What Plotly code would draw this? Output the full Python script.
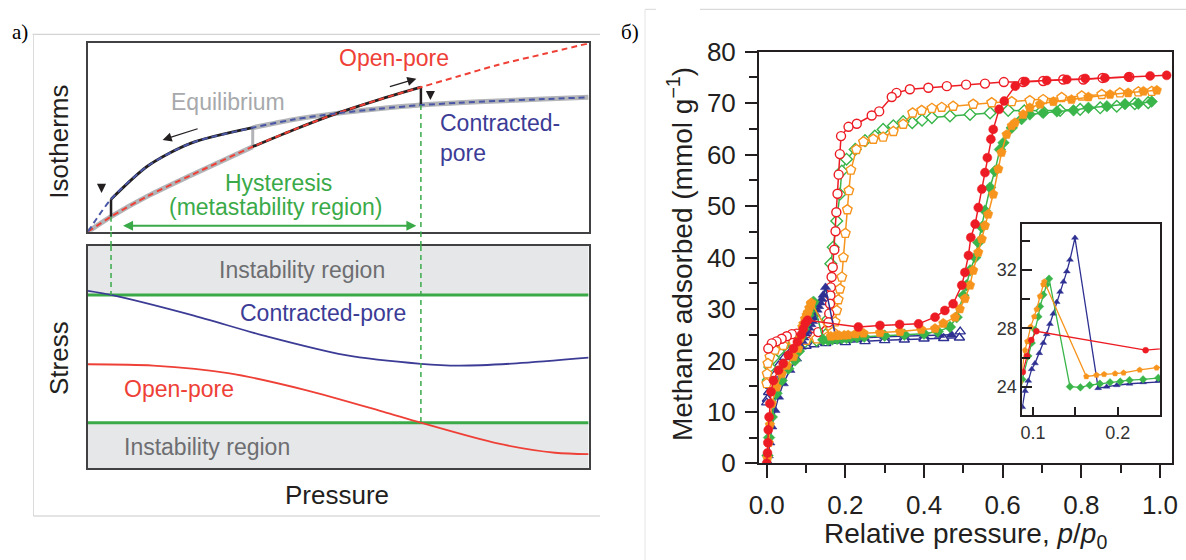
import plotly.graph_objects as go

W, H = 1186, 560

# ---------------- Panel a: schematic isotherms (normalised units) ----------------
iso_x = [0.0, 0.046, 0.12, 0.206, 0.329, 0.41, 0.497, 0.58, 0.665, 0.74, 0.818, 0.91, 1.0]
open_pore_iso = [0.0, 0.08, 0.19, 0.30, 0.451, 0.54, 0.628, 0.70, 0.767, 0.825, 0.885, 0.943, 1.0]
contracted_iso = [0.0, 0.172, 0.35, 0.47, 0.552, 0.595, 0.628, 0.652, 0.672, 0.684, 0.694, 0.704, 0.713]
hyst_low_p = 0.046
equil_p = 0.329
hyst_high_p = 0.665

stress_x_contracted = [0.0, 0.046, 0.206, 0.359, 0.512, 0.665, 0.741, 0.856, 1.0]
stress_contracted = [0.798, 0.78, 0.69, 0.592, 0.51, 0.47, 0.462, 0.472, 0.4975]
stress_x_open = [0.0, 0.13, 0.283, 0.435, 0.589, 0.665, 0.818, 0.933, 1.0]
stress_open = [0.468, 0.462, 0.427, 0.352, 0.255, 0.205, 0.112, 0.07, 0.064]
stress_upper_limit = 0.78
stress_lower_limit = 0.205

# ---------------- Panel b: methane isotherms ----------------
red_ads_x = [0.0, 0.002, 0.003, 0.004, 0.006, 0.008, 0.011, 0.017, 0.03, 0.042,
             0.055, 0.068, 0.078, 0.088, 0.093, 0.098, 0.104, 0.233, 0.288, 0.338,
             0.386, 0.428, 0.453, 0.474, 0.496, 0.504, 0.513, 0.519, 0.53, 0.538,
             0.547, 0.555, 0.561, 0.57, 0.576, 0.591, 0.604, 0.632, 0.657, 0.712,
             0.763, 0.81, 0.86, 0.92, 0.975, 1.017]
red_ads_y = [0.0, 2.0, 4.0, 6.5, 9.0, 11.6, 13.9, 16.1, 18.1, 19.4,
             21.0, 22.3, 23.6, 25.0, 26.1, 27.2, 27.8, 26.5, 26.8, 27.0,
             27.1, 28.4, 29.7, 31.0, 34.6, 37.1, 40.4, 43.9, 46.5, 49.7,
             53.3, 56.5, 59.4, 63.0, 64.9, 68.8, 70.4, 73.3, 74.2, 74.4,
             74.6, 74.8, 74.9, 75.1, 75.3, 75.4]
red_des_x = [0.922, 0.854, 0.805, 0.754, 0.703, 0.652, 0.603, 0.555, 0.507, 0.458,
             0.411, 0.364, 0.33, 0.318, 0.286, 0.267, 0.229, 0.208, 0.189, 0.186,
             0.183, 0.18, 0.177, 0.175, 0.172, 0.168, 0.165, 0.163, 0.162, 0.161,
             0.159, 0.157, 0.131, 0.102, 0.076, 0.064, 0.051, 0.038, 0.025, 0.013,
             0.004]
red_des_y = [75.1, 74.9, 74.6, 74.6, 74.3, 74.1, 74.1, 73.8, 73.6, 73.3,
             73.0, 72.7, 72.0, 71.2, 68.4, 67.6, 66.0, 65.4, 63.6, 60.1,
             56.1, 52.4, 48.8, 45.1, 41.5, 38.1, 36.2, 34.2, 32.6, 31.0,
             29.1, 27.4, 25.5, 25.3, 25.2, 25.1, 24.7, 24.2, 23.7, 23.3,
             22.3]

orange_ads_x = [0.002, 0.005, 0.008, 0.013, 0.025, 0.038, 0.051, 0.068, 0.08, 0.085,
                0.0906, 0.0933, 0.0973, 0.1015, 0.1044, 0.1083, 0.1122, 0.1134, 0.163, 0.175,
                0.184, 0.197, 0.207, 0.226, 0.246, 0.288, 0.339, 0.393, 0.428, 0.449,
                0.479, 0.491, 0.504, 0.517, 0.525, 0.538, 0.547, 0.555, 0.563, 0.576,
                0.589, 0.597, 0.61, 0.623, 0.631, 0.652, 0.669, 0.695, 0.729, 0.775,
                0.818, 0.873, 0.919, 0.958, 0.992]
orange_ads_y = [1.0, 4.0, 7.5, 11.6, 14.8, 17.4, 19.0, 20.7, 22.3, 24.3,
                26.5, 27.1, 28.1, 28.8, 29.3, 30.2, 31.0, 31.2, 24.7, 24.8,
                24.85, 24.9, 24.95, 25.15, 25.3, 25.4, 25.6, 26.0, 26.2, 27.2,
                28.4, 30.0, 32.0, 34.6, 37.5, 41.0, 43.6, 46.2, 48.4, 52.3,
                57.2, 60.4, 63.9, 65.6, 66.2, 67.8, 69.1, 69.8, 70.3, 70.7,
                71.2, 71.7, 72.0, 72.3, 72.5]
orange_des_x = [0.979, 0.945, 0.898, 0.852, 0.801, 0.75, 0.703, 0.669, 0.623, 0.572,
                0.525, 0.474, 0.445, 0.42, 0.394, 0.371, 0.347, 0.322, 0.296, 0.271,
                0.246, 0.228, 0.214, 0.209, 0.205, 0.2, 0.195, 0.191, 0.186, 0.182,
                0.178, 0.174, 0.168, 0.153, 0.127, 0.1, 0.068, 0.042, 0.021, 0.008,
                0.003, 0.001, 0.0]
orange_des_y = [72.3, 72.2, 72.0, 71.7, 71.4, 71.1, 70.7, 70.5, 70.3, 70.1,
                69.8, 69.4, 69.2, 69.0, 68.6, 68.1, 65.9, 64.5, 63.4, 63.0,
                62.5, 61.0, 57.0, 53.0, 49.3, 44.7, 40.0, 36.2, 33.9, 31.8,
                29.7, 27.5, 25.5, 24.5, 24.2, 23.9, 23.6, 22.9, 22.0, 20.7,
                19.4, 17.4, 15.5]

green_ads_x = [0.002, 0.006, 0.013, 0.025, 0.038, 0.055, 0.072, 0.082, 0.0874, 0.0945,
               0.0985, 0.1024, 0.1063, 0.1083, 0.1122, 0.1162, 0.119, 0.1437, 0.156, 0.167,
               0.179, 0.191, 0.203, 0.214, 0.23, 0.248, 0.3, 0.35, 0.4, 0.435,
               0.466, 0.483, 0.5, 0.508, 0.517, 0.53, 0.538, 0.547, 0.555, 0.568,
               0.58, 0.593, 0.602, 0.623, 0.648, 0.669, 0.703, 0.738, 0.78, 0.818,
               0.865, 0.911, 0.945, 0.979]
green_ads_y = [1.5, 5.0, 9.0, 13.6, 16.1, 18.4, 20.0, 21.8, 24.5, 26.1,
               27.0, 27.9, 28.8, 29.5, 30.3, 31.0, 31.4, 24.0, 23.95, 24.1,
               24.2, 24.3, 24.35, 24.45, 24.5, 24.6, 24.8, 25.0, 25.2, 25.6,
               26.5, 28.4, 32.6, 34.6, 37.5, 40.0, 42.9, 45.9, 49.1, 53.6,
               56.8, 61.0, 62.3, 65.2, 66.9, 67.8, 68.1, 68.4, 68.6, 69.1,
               69.4, 69.8, 69.9, 70.3]
green_des_x = [0.97, 0.936, 0.89, 0.848, 0.797, 0.746, 0.7, 0.655, 0.614, 0.568,
               0.517, 0.466, 0.42, 0.395, 0.37, 0.347, 0.322, 0.296, 0.275, 0.25,
               0.225, 0.203, 0.191, 0.186, 0.178, 0.169, 0.163, 0.158, 0.155, 0.15,
               0.127, 0.097, 0.068, 0.042, 0.03, 0.017, 0.008, 0.004]
green_des_y = [70.1, 69.9, 69.4, 69.1, 68.8, 68.6, 68.5, 68.5, 68.6, 68.1,
               67.8, 67.5, 67.2, 66.7, 66.2, 66.4, 65.6, 64.9, 63.6, 62.7,
               61.0, 59.1, 56.8, 52.3, 47.1, 42.0, 38.8, 33.0, 28.0, 25.0,
               23.9, 23.6, 23.3, 22.7, 21.8, 20.5, 18.7, 16.2]

blue_ads_x = [0.002, 0.004, 0.008, 0.013, 0.021, 0.03, 0.042, 0.059, 0.076, 0.0874,
              0.0906, 0.0945, 0.0985, 0.1024, 0.1075, 0.1122, 0.1162, 0.12, 0.124, 0.128,
              0.132, 0.136, 0.14, 0.1437, 0.1496, 0.177, 0.187, 0.199, 0.214, 0.23,
              0.248, 0.3, 0.35, 0.4, 0.44, 0.47]
blue_ads_y = [0.3, 1.5, 4.0, 7.1, 10.3, 12.9, 15.5, 18.1, 20.3, 22.6,
              23.7, 24.4, 25.2, 25.6, 26.3, 27.0, 27.6, 28.3, 29.0, 29.8,
              30.5, 31.2, 31.9, 32.7, 34.2, 23.9, 24.0, 24.1, 24.2, 24.3,
              24.4, 24.6, 24.7, 24.8, 24.9, 25.0]
blue_des_x = [0.492, 0.49, 0.45, 0.4, 0.35, 0.3, 0.25, 0.2, 0.15, 0.12,
              0.1, 0.08, 0.06, 0.045, 0.03, 0.02, 0.01, 0.005, 0.002, 0.0]
blue_des_y = [25.6, 24.4, 24.3, 24.2, 24.0, 23.9, 23.7, 23.5, 23.3, 23.1,
              22.8, 22.3, 21.6, 20.6, 19.0, 17.2, 15.0, 13.8, 12.5, 11.8]

x_ticks_main = [0.0, 0.2, 0.4, 0.6, 0.8, 1.0]
y_ticks_main = [0, 10, 20, 30, 40, 50, 60, 70, 80]
x_ticks_inset = [0.1, 0.2]
y_ticks_inset = [24, 28, 32]

# ---------------- styling ----------------
RED_A, BLUE_A, GREEN_A = "#ee4036", "#3c3c96", "#3aaa49"
GRAY_EQ, BLACK = "rgba(165,167,170,0.85)", "#231f20"
GRAY_TXT, FILL = "#6d6e71", "#e6e7e8"
C_RED, C_ORANGE, C_GREEN, C_BLUE = "#ed1c24", "#f7941d", "#39b54a", "#2e3192"
FONT = "Liberation Sans, Arial, Helvetica, sans-serif"
SERIF = "Liberation Serif, Times New Roman, serif"


def px(x):
    return x / W


def py(y):
    return 1 - y / H


dom_a_x = [px(88), px(588.6)]
dom_a_top = [py(231.7), py(43.3)]
dom_a_bot = [py(468.3), py(246)]
dom_b_x = [px(759), px(1171.7)]
dom_b_y = [py(463.3), py(51.7)]
dom_i_x = [px(1022.3), px(1160)]
dom_i_y = [py(415), py(224)]

fig = go.Figure()


def line(x, y, xa, ya, color, width, dash="solid", shape="linear"):
    fig.add_trace(go.Scatter(x=x, y=y, xaxis=xa, yaxis=ya, mode="lines",
                             line=dict(color=color, width=width, dash=dash, shape=shape,
                                       smoothing=0.8),
                             hoverinfo="skip", showlegend=False))


i_low = iso_x.index(hyst_low_p)
i_eq = iso_x.index(equil_p)
i_high = iso_x.index(hyst_high_p)

# equilibrium (gray)
line(iso_x[:i_eq + 1], open_pore_iso[:i_eq + 1], "x", "y", GRAY_EQ, 5, shape="spline")
line([equil_p, equil_p], [open_pore_iso[i_eq], contracted_iso[i_eq]], "x", "y", GRAY_EQ, 3)
line(iso_x[i_eq:], contracted_iso[i_eq:], "x", "y", GRAY_EQ, 5, shape="spline")
# hysteresis loop (black)
line([hyst_low_p, hyst_low_p], [open_pore_iso[i_low], contracted_iso[i_low]], "x", "y", BLACK, 2.5)
line(iso_x[i_low:i_eq + 1], contracted_iso[i_low:i_eq + 1], "x", "y", BLACK, 2.8, shape="spline")
line(iso_x[i_eq:i_high + 1], open_pore_iso[i_eq:i_high + 1], "x", "y", BLACK, 2.8, shape="spline")
line([hyst_high_p, hyst_high_p], [open_pore_iso[i_high], contracted_iso[i_high]], "x", "y", BLACK, 2.5)
# dashed isotherms
line(iso_x, open_pore_iso, "x", "y", RED_A, 2, dash="6px,4px", shape="spline")
line(iso_x, contracted_iso, "x", "y", "#4a56a6", 2, dash="6px,4px", shape="spline")
# green dashed markers of the hysteresis region (top panel)
line([hyst_low_p, hyst_low_p], [open_pore_iso[i_low], 0], "x", "y", GREEN_A, 1.5, dash="5px,4px")
line([hyst_high_p, hyst_high_p], [contracted_iso[i_high], 0], "x", "y", GREEN_A, 1.5, dash="5px,4px")

# stress panel
line([0, 1], [stress_upper_limit] * 2, "x2", "y2", GREEN_A, 3)
line([0, 1], [stress_lower_limit] * 2, "x2", "y2", GREEN_A, 3)
line(stress_x_contracted, stress_contracted, "x2", "y2", BLUE_A, 1.8, shape="spline")
line(stress_x_open, stress_open, "x2", "y2", RED_A, 1.8, shape="spline")
line([hyst_low_p, hyst_low_p], [1, stress_upper_limit], "x2", "y2", GREEN_A, 1.5, dash="5px,4px")
line([hyst_high_p, hyst_high_p], [1, stress_lower_limit], "x2", "y2", GREEN_A, 1.5, dash="5px,4px")

# ---------------- panel b traces ----------------
series = [
    ("blue", blue_ads_x, blue_ads_y, blue_des_x, blue_des_y, C_BLUE, "triangle-up", 9),
    ("green", green_ads_x, green_ads_y, green_des_x, green_des_y, C_GREEN, "diamond", 9),
    ("orange", orange_ads_x, orange_ads_y, orange_des_x, orange_des_y, C_ORANGE, "pentagon", 10),
    ("red", red_ads_x, red_ads_y, red_des_x, red_des_y, C_RED, "circle", 9),
]
for name, ax_, ay_, dx_, dy_, col, sym, sz in series:
    fig.add_trace(go.Scatter(x=dx_, y=dy_, xaxis="x3", yaxis="y3", mode="lines+markers",
                             line=dict(color=col, width=1.5),
                             marker=dict(symbol=sym, size=sz, color="white",
                                         line=dict(color=col, width=1.4)),
                             hoverinfo="skip", showlegend=False))
for name, ax_, ay_, dx_, dy_, col, sym, sz in series:
    fig.add_trace(go.Scatter(x=ax_, y=ay_, xaxis="x3", yaxis="y3", mode="lines+markers",
                             line=dict(color=col, width=1.5),
                             marker=dict(symbol=sym, size=sz, color=col,
                                         line=dict(color=col, width=0.5)),
                             hoverinfo="skip", showlegend=False))
# inset: adsorption branches only
for name, ax_, ay_, dx_, dy_, col, sym, sz in series:
    fig.add_trace(go.Scatter(x=ax_, y=ay_, xaxis="x4", yaxis="y4", mode="lines+markers",
                             line=dict(color=col, width=1.3),
                             marker=dict(symbol=sym, size=6, color=col,
                                         line=dict(color=col, width=0.4)),
                             hoverinfo="skip", showlegend=False))

# ---------------- axes ----------------
frame_a = dict(range=[0, 1], showline=True, mirror=True, linecolor="#414042", linewidth=2,
               showticklabels=False, showgrid=False, zeroline=False, ticks="", fixedrange=True,
               automargin=False)
tick_font = dict(family=FONT, size=26, color="#231f20")
fig.update_layout(
    width=W, height=H, margin=dict(l=0, r=0, t=0, b=0, pad=0, autoexpand=False),
    paper_bgcolor="white", plot_bgcolor="white", showlegend=False,
    xaxis=dict(frame_a, domain=dom_a_x, anchor="y"),
    yaxis=dict(frame_a, domain=dom_a_top, anchor="x"),
    xaxis2=dict(frame_a, domain=dom_a_x, anchor="y2"),
    yaxis2=dict(frame_a, domain=dom_a_bot, anchor="x2"),
    xaxis3=dict(domain=dom_b_x, anchor="y3", range=[-0.0196, 1.0298], automargin=False,
                tickvals=x_ticks_main, tickformat=".1f", ticks="outside", ticklen=13,
                tickwidth=2, tickcolor=BLACK, minor=dict(dtick=0.1, tick0=0, ticklen=8,
                                                         tickwidth=2, tickcolor=BLACK, ticks="outside"),
                showline=True, mirror=True, linecolor=BLACK, linewidth=2, showgrid=False,
                zeroline=False, tickfont=tick_font, ticklabelstandoff=4),
    yaxis3=dict(domain=dom_b_y, anchor="x3", range=[0, 80], automargin=False,
                tickvals=y_ticks_main, ticks="outside", ticklen=12, tickwidth=2, tickcolor=BLACK,
                minor=dict(dtick=5, tick0=0, ticklen=8, tickwidth=2, tickcolor=BLACK, ticks="outside"),
                showline=True, mirror=True, linecolor=BLACK, linewidth=2, showgrid=False,
                zeroline=False, tickfont=tick_font, ticklabelstandoff=4),
    xaxis4=dict(domain=dom_i_x, anchor="y4", range=[0.0874, 0.25], automargin=False,
                tickvals=x_ticks_inset, tickformat=".1f", ticks="inside", ticklen=8, tickwidth=1.5,
                tickcolor=BLACK, minor=dict(dtick=0.05, tick0=0, ticklen=8, tickwidth=1.5,
                                            tickcolor=BLACK, ticks="inside"),
                showline=True, mirror=True, linecolor=BLACK, linewidth=1.8, showgrid=False,
                zeroline=False, tickfont=dict(family=FONT, size=18, color="#333")),
    yaxis4=dict(domain=dom_i_y, anchor="x4", range=[22.06, 35.15], automargin=False,
                tickvals=y_ticks_inset, ticks="inside", ticklen=10, tickwidth=1.5, tickcolor=BLACK,
                minor=dict(dtick=2, tick0=0, ticklen=8, tickwidth=1.5, tickcolor=BLACK,
                           ticks="inside"),
                showline=True, mirror=True, linecolor=BLACK, linewidth=1.8, showgrid=False,
                zeroline=False, tickfont=dict(family=FONT, size=18, color="#333")),
)

# ---------------- shapes ----------------
shapes = [
    # instability regions
    dict(type="rect", xref="x2", yref="y2", x0=0, x1=1, y0=stress_upper_limit, y1=1,
         fillcolor=FILL, line=dict(width=0), layer="below"),
    dict(type="rect", xref="x2", yref="y2", x0=0, x1=1, y0=0, y1=stress_lower_limit,
         fillcolor=FILL, line=dict(width=0), layer="below"),
    # panel frames (decorative)
    dict(type="line", xref="paper", yref="paper", x0=px(32.5), x1=px(600), y0=py(34.3), y1=py(34.3),
         line=dict(color="#c8c8c8", width=1)),
    dict(type="line", xref="paper", yref="paper", x0=px(33.5), x1=px(33.5), y0=py(34.3), y1=py(516),
         line=dict(color="#dcdcdc", width=1)),
    dict(type="line", xref="paper", yref="paper", x0=px(33.5), x1=px(600), y0=py(516), y1=py(516),
         line=dict(color="#c8c8c8", width=1)),
    dict(type="line", xref="paper", yref="paper", x0=px(645), x1=px(656), y0=py(9.3), y1=py(9.3),
         line=dict(color="#d8d8d8", width=1)),
    dict(type="line", xref="paper", yref="paper", x0=px(700), x1=1, y0=py(9.3), y1=py(9.3),
         line=dict(color="#d0d0d0", width=1)),
    dict(type="line", xref="paper", yref="paper", x0=px(645), x1=px(645), y0=py(9.3), y1=0,
         line=dict(color="#e4e4e4", width=1)),
]
# green dashed lines crossing the gap between the two schematic boxes
for p in (hyst_low_p, hyst_high_p):
    shapes.append(dict(type="line", xref="x", yref="paper", x0=p, x1=p,
                       y0=dom_a_bot[1], y1=dom_a_top[0],
                       line=dict(color=GREEN_A, width=1.5, dash="5px,4px")))
fig.update_layout(shapes=shapes)

# ---------------- annotations ----------------
ann = []


def text(t, x, y, xref, yref, size, color, **kw):
    d = dict(text=t, x=x, y=y, xref=xref, yref=yref, showarrow=False,
             xanchor=kw.pop("xanchor", "center"), yanchor="middle",
             font=dict(family=kw.pop("family", FONT), size=size, color=color))
    d.update(kw)
    ann.append(d)


def arrow(x, y, ax_, ay_, color, width, size=1.0, side="end"):
    ann.append(dict(x=x, y=y, ax=ax_, ay=ay_, xref="x", yref="y", axref="x", ayref="y",
                    text="", showarrow=True, arrowhead=2, arrowsize=size, arrowwidth=width,
                    arrowcolor=color, arrowside=side, standoff=0, startstandoff=0))


# panel a – top box texts
text("Open-pore", 0.612, 0.92, "x", "y", 23, RED_A)
text("Equilibrium", 0.279, 0.69, "x", "y", 23, "#a7a9ac")
text("Contracted-<br>pore", 0.6996, 0.4955, "x", "y", 23, BLUE_A, xanchor="left", align="left")
text("Hysteresis", 0.3797, 0.257, "x", "y", 23, GREEN_A)
text("(metastability region)", 0.3746, 0.1295, "x", "y", 23, GREEN_A)
arrow(0.027, 0.206, 0.027, 0.247, BLACK, 1.3, 1.4)
arrow(0.149, 0.487, 0.222, 0.549, BLACK, 1.3, 1.4)
arrow(0.656, 0.812, 0.600, 0.767, BLACK, 1.3, 1.4)
arrow(0.684, 0.699, 0.684, 0.749, BLACK, 1.3, 1.4)
arrow(0.656, 0.032, 0.067, 0.032, GREEN_A, 2, 1.0, side="end+start")
# panel a – bottom box texts
text("Instability region", 0.4275, 0.893, "x2", "y2", 23, GRAY_TXT)
text("Contracted-pore", 0.4702, 0.700, "x2", "y2", 23, BLUE_A)
text("Open-pore", 0.1812, 0.3554, "x2", "y2", 23, RED_A)
text("Instability region", 0.237, 0.097, "x2", "y2", 23, GRAY_TXT)
# panel a – outer labels
text("Isotherms", px(59), py(141.7), "paper", "paper", 26, "#231f20", textangle=-90)
text("Stress", px(59), py(358), "paper", "paper", 26, "#231f20", textangle=-90)
text("Pressure", px(337), py(495), "paper", "paper", 26, "#231f20")
text("a)", px(20), py(32), "paper", "paper", 21, "black", family=SERIF)
# panel b labels
text("б)", px(630), py(32), "paper", "paper", 21, "black", family=SERIF)
text("Methane adsorbed (mmol g<sup>−1</sup>)", px(680), py(254), "paper", "paper", 28,
     "#231f20", textangle=-90)
text("Relative pressure, <i>p</i>/<i>p</i><sub>0</sub>", px(965), py(535), "paper", "paper", 28,
     "#231f20")
fig.update_layout(annotations=ann)

fig.write_html(
    "out.html",
    config={"displayModeBar": False},
    post_script="document.body.style.margin='0px';document.body.style.overflow='hidden';",
)
